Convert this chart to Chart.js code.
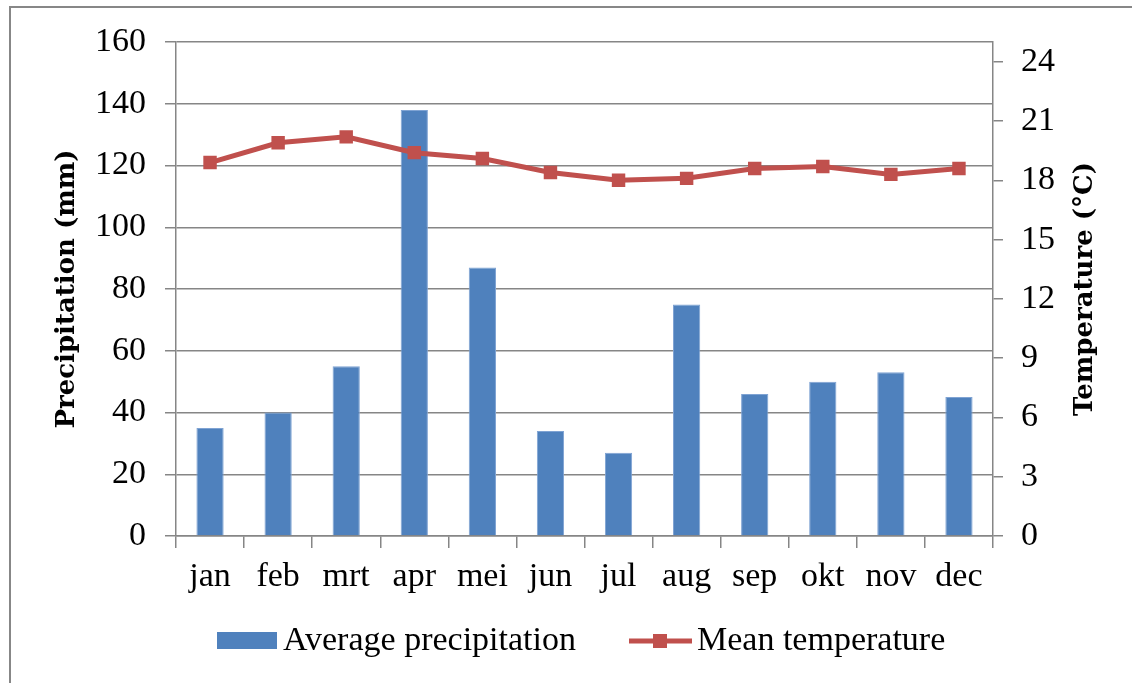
<!DOCTYPE html>
<html lang="en">
<head>
  <meta charset="UTF-8">
  <title>Precipitation and temperature</title>
  <script src="https://cdn.jsdelivr.net/npm/chart.js"></script>
  <style>
    html, body { margin: 0; padding: 0; background: #fff; overflow: hidden; }
    #wrap { position: relative; width: 1132px; height: 683px; overflow: hidden; }
    #frame { position: absolute; left: 9px; top: 6px; width: 1200px; height: 800px; border: 2px solid #878787; }
    #climateChart { position: absolute; left: 0; top: 0; }
  </style>
</head>
<body>
<div id="wrap">
  <div id="frame"></div>
  <canvas id="climateChart" width="1132" height="683"></canvas>
</div>

<script>
  const months = ['jan', 'feb', 'mrt', 'apr', 'mei', 'jun', 'jul', 'aug', 'sep', 'okt', 'nov', 'dec'];
  const precipitation = [35, 40, 55, 138, 87, 34, 27, 75, 46, 50, 53, 45];
  const temperature = [18.9, 19.9, 20.2, 19.4, 19.1, 18.4, 18.0, 18.1, 18.6, 18.7, 18.3, 18.6];
  const precipTicks = [0, 20, 40, 60, 80, 100, 120, 140, 160];
  const tempTicks = [0, 3, 6, 9, 12, 15, 18, 21, 24];

  const BLUE = '#4F81BD';
  const RED = '#C0504D';
  const GRID = '#868686';
  const labelFont = { family: 'Liberation Serif', size: 34 };
  const titleFont = { family: 'DejaVu Serif', size: 26, weight: 'bold' };

  // right axis title reads bottom-to-top, plus the legend row under the axis
  const extras = {
    id: 'extras',
    afterDraw(chart) {
      const ctx = chart.ctx;
      const area = chart.chartArea;
      ctx.save();
      ctx.fillStyle = '#000';
      ctx.font = 'bold 26px "DejaVu Serif"';
      ctx.textAlign = 'center';
      ctx.textBaseline = 'middle';
      ctx.translate(1085, (area.top + area.bottom) / 2);
      ctx.rotate(-Math.PI / 2);
      ctx.fillText('Temperature (°C)', 0, 0);
      ctx.restore();

      const ds = chart.data.datasets;
      const y = 641;
      ctx.save();
      ctx.font = '34px "Liberation Serif"';
      ctx.textBaseline = 'middle';
      ctx.fillStyle = ds[1].backgroundColor;
      ctx.fillRect(217, 632, 60, 17);
      ctx.fillStyle = '#000';
      ctx.fillText(ds[1].label, 283, y);

      ctx.strokeStyle = ds[0].borderColor;
      ctx.lineWidth = 5;
      ctx.beginPath();
      ctx.moveTo(629, y);
      ctx.lineTo(692, y);
      ctx.stroke();
      ctx.fillStyle = ds[0].borderColor;
      ctx.fillRect(653, y - 7, 14, 14);
      ctx.fillStyle = '#000';
      ctx.fillText(ds[0].label, 697, y);
      ctx.restore();
    }
  };

  const ctx = document.getElementById('climateChart').getContext('2d');
  const climateChart = new Chart(ctx, {
    data: {
      labels: months,
      datasets: [{
        type: 'line',
        label: 'Mean temperature',
        data: temperature,
        yAxisID: 'y1',
        order: 0,
        borderColor: RED,
        backgroundColor: RED,
        borderWidth: 5,
        pointStyle: 'rect',
        pointRadius: 9.5,
        pointBackgroundColor: RED,
        pointBorderColor: RED,
        pointBorderWidth: 0,
        tension: 0
      }, {
        type: 'bar',
        label: 'Average precipitation',
        data: precipitation,
        yAxisID: 'y',
        order: 1,
        backgroundColor: BLUE,
        borderColor: '#7FA3D3',
        borderWidth: 1,
        barPercentage: 0.4,
        categoryPercentage: 1.0
      }]
    },
    options: {
      responsive: false,
      animation: false,
      layout: { padding: { top: 42, right: 0, bottom: 0, left: 0 } },
      plugins: {
        legend: { display: false },
        tooltip: { enabled: false }
      },
      scales: {
        x: {
          offset: true,
          grid: { offset: true, drawOnChartArea: false, tickLength: 12, color: GRID, lineWidth: 1.5 },
          border: { color: GRID, width: 1.5 },
          ticks: { font: labelFont, color: '#000', padding: 9, maxRotation: 0 },
          afterFit: s => { s.height = 683 - 536; }
        },
        y: {
          position: 'left',
          min: 0,
          max: 160,
          afterBuildTicks: axis => { axis.ticks = precipTicks.map(v => ({ value: v })); },
          grid: { color: GRID, lineWidth: 1.5, tickLength: 11 },
          border: { color: GRID, width: 1.5 },
          ticks: { font: labelFont, color: '#000', padding: 19 },
          title: { display: true, text: 'Precipitation (mm)', font: titleFont, color: '#000', padding: { top: 52, bottom: 0 } },
          afterFit: s => { s.width = 176; }
        },
        y1: {
          position: 'right',
          min: 0,
          max: 25,
          afterBuildTicks: axis => { axis.ticks = tempTicks.map(v => ({ value: v })); },
          grid: { drawOnChartArea: false, color: GRID, lineWidth: 1.5, tickLength: 10 },
          border: { color: GRID, width: 1.5 },
          ticks: { font: labelFont, color: '#000', padding: 18 },
          afterFit: s => { s.width = 1132 - 993; }
        }
      }
    },
    plugins: [extras]
  });
</script>
</body>
</html>
